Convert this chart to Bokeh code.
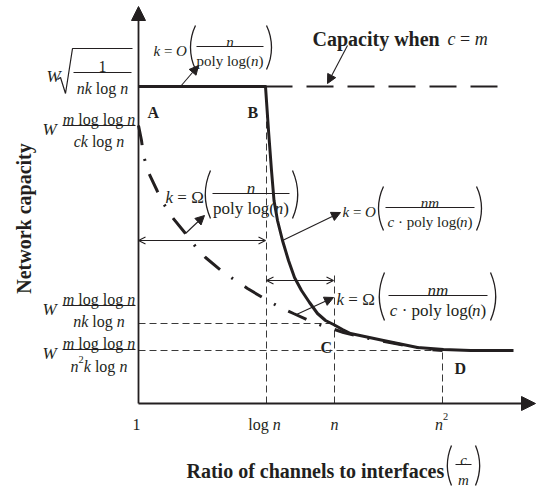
import math
from bokeh.plotting import figure
from bokeh.models import Range1d, Arrow, NormalHead, OpenHead
from bokeh.core.properties import value
from bokeh.embed import file_html
from bokeh.resources import INLINE

INK = "#231f20"
FONT = "Liberation Serif"

# ---------------- data (diagram units: x along the c/m axis, y = capacity) ----------------
x_tick_pos = [0, 128, 196, 304]                 # 1, log n, n, n^2
level_top = 317                                  # W sqrt(1/(nk log n))  (capacity when c = m)
level_A = 278                                    # W m loglog n /(ck log n)
level_C = 80                                     # W m loglog n /(nk log n)
level_D = 53                                     # W m loglog n /(n^2 k log n)

solid_x = [0, 127, 130, 133, 135.5, 139, 144, 150, 156, 163, 171, 179, 187, 195, 204, 212, 245, 279, 305, 332, 375]
solid_y = [317, 317, 273, 233, 203, 183, 163, 143, 126, 113, 101, 90, 83, 79, 74, 70, 63, 56, 54, 53, 53]

dashdot_x = [0, 3, 5, 10, 19, 25, 34, 47, 57, 67, 85, 97, 109, 129, 142, 155, 177, 190, 205, 225, 262, 290, 304]
dashdot_y = [278, 263, 248, 231, 212, 200, 186, 170, 157, 146, 131, 123, 115, 103, 96, 90, 80, 76, 71, 66, 59, 54, 53]

cm_x = [127, 359]
cm_y = [level_top, level_top]

x_axis_title = "Ratio of channels to interfaces"
y_axis_title = "Network capacity"
point_names = ["A", "B", "C", "D"]

# page position of the diagram origin (used to place annotation text)
OX, OY = 138, 403
W_PX, H_PX = 540, 486

# ---------------- text metrics (Times-like) ----------------
REG = {' ': 250, '(': 333, ')': 333, '=': 564, '\u00b7': 250, '1': 500, '2': 500,
       'a': 444, 'b': 500, 'c': 444, 'd': 500, 'e': 444, 'f': 333, 'g': 500, 'h': 500,
       'i': 278, 'k': 500, 'l': 278, 'm': 778, 'n': 500, 'o': 500, 'p': 500, 'r': 333,
       's': 389, 't': 278, 'w': 722, 'y': 500, 'O': 722, '\u03a9': 768, 'W': 944}
ITA = {'k': 444, 'm': 722, 'n': 500, 'c': 444, 'W': 833, 'O': 722}
BLD = {'C': 722, 'a': 500, 'p': 556, 'c': 444, 'i': 278, 't': 333, 'y': 500, 'w': 722,
       'h': 556, 'e': 444, 'n': 556, 'R': 722, 'o': 500, 'f': 333, 'l': 278, 's': 389, 'r': 444}


def tw(s, style, size):
    tab = ITA if style == "italic" else (BLD if style == "bold" else {})
    return sum(tab.get(ch, REG.get(ch, 500)) for ch in s) * size / 1000.0


p = figure(width=W_PX, height=H_PX,
           x_range=Range1d(-OX, W_PX - OX), y_range=Range1d(OY - H_PX, OY),
           output_backend="svg", toolbar_location=None, min_border=0,
           x_axis_type=None, y_axis_type=None)
p.grid.visible = False
p.outline_line_color = None
p.background_fill_color = "white"
p.border_fill_color = "white"


def txt(s, X, Y, size, style="normal", align="left", angle=0.0):
    p.text(x=[X - OX], y=[OY - Y], text=[s], angle=angle,
           text_font=value(FONT), text_font_size=f"{size}px",
           text_font_style=style, text_align=align, text_baseline="alphabetic",
           text_color=INK)


def segs(parts, X, Y, size, align="left"):
    items = []
    for part in parts:
        t, st = part[0], part[1]
        f = part[2] if len(part) > 2 else 1.0
        rise = part[3] if len(part) > 3 else 0
        items.append((t, st, size * f, rise))
    total = sum(tw(t, st, sz) for t, st, sz, r in items)
    x0 = X - total / 2 if align == "center" else X
    for t, st, sz, rise in items:
        lead = len(t) - len(t.lstrip(" "))
        core = t.strip(" ")
        if core:
            txt(core, x0 + tw(" " * lead, st, sz), Y - rise, sz, st)
        x0 += tw(t, st, sz)


def hline(X0, X1, Y, w=1.0):
    p.segment(x0=[X0 - OX], y0=[OY - Y], x1=[X1 - OX], y1=[OY - Y], line_color=INK, line_width=w)


def frac(num, den, cx, half, barY, size, ngap=6, dgap=16):
    hline(cx - half, cx + half, barY)
    segs(num, cx, barY - ngap, size, "center")
    segs(den, cx, barY + dgap, size, "center")


def paren(Xedge, Yc, half, side, s=5.0):
    r = (half ** 2 + s ** 2) / (2 * s)
    a = math.asin(half / r)
    if side == "left":
        cx, st, en = Xedge + r, math.pi - a, math.pi + a
    else:
        cx, st, en = Xedge - r, -a, a
    p.arc(x=[cx - OX], y=[OY - Yc], radius=r, start_angle=st, end_angle=en,
          line_color=INK, line_width=1.3)


def arrow(X0, Y0, X1, Y1, double=False, size=9):
    if double:
        p.add_layout(Arrow(start=OpenHead(size=7, line_color=INK, line_width=1.1),
                           end=OpenHead(size=7, line_color=INK, line_width=1.1),
                           x_start=X0 - OX, y_start=OY - Y0, x_end=X1 - OX, y_end=OY - Y1,
                           line_color=INK, line_width=1.1))
    else:
        p.add_layout(Arrow(end=NormalHead(size=size, fill_color=INK, line_color=INK, line_width=1),
                           x_start=X0 - OX, y_start=OY - Y0, x_end=X1 - OX, y_end=OY - Y1,
                           line_color=INK, line_width=1.1))


# ---------------- guide lines ----------------
gv_x = [x_tick_pos[1], x_tick_pos[2], x_tick_pos[3]]
gv_top = [level_top, 130, level_D]
for gx, gt in zip(gv_x, gv_top):
    p.line([gx, gx], [0, gt], line_color="#3a3a3a", line_width=1, line_dash="7 4")
gh_y = [level_C, level_D]
gh_right = [x_tick_pos[2], x_tick_pos[3]]
for gy, gr in zip(gh_y, gh_right):
    p.line([0, gr], [gy, gy], line_color="#3a3a3a", line_width=1, line_dash="7 4")

# ---------------- curves ----------------
p.line(cm_x, cm_y, line_color=INK, line_width=2, line_dash="27 14")
p.line(dashdot_x, dashdot_y, line_color=INK, line_width=3, line_dash="20 14 2 14")
p.line(solid_x, solid_y, line_color=INK, line_width=3, line_join="round")

# ---------------- axes ----------------
p.add_layout(Arrow(end=NormalHead(size=14, fill_color=INK, line_color=INK),
                   x_start=0, y_start=0, x_end=0, y_end=397, line_color=INK, line_width=1.8))
p.add_layout(Arrow(end=NormalHead(size=14, fill_color=INK, line_color=INK),
                   x_start=0, y_start=0, x_end=397, y_end=0, line_color=INK, line_width=1.8))

# x tick labels
txt("1", 136, 424, 16, "normal", "center")
segs([("log ", "normal"), ("n", "italic")], 264, 424, 16, "center")
segs([("n", "italic")], 334, 424, 16, "center")
segs([("n", "italic"), ("2", "normal", 0.65, 8)], 441, 424, 16, "center")

# axis titles
txt(x_axis_title, 186, 470, 20, "bold")
paren(447, 465, 20, "left", 4)
paren(479, 465, 20, "right", 4)
frac([("c", "italic")], [("m", "italic")], 463, 8, 464, 15, ngap=5, dgap=15)
txt(y_axis_title, 23, 218, 20, "bold", "center", angle=math.pi / 2)

# ---------------- y level labels ----------------
NK = [("nk", "italic"), (" log ", "normal"), ("n", "italic")]
MLL = [("m", "italic"), (" log log ", "normal"), ("n", "italic")]
# level 1
txt("W", 46, 76, 17, "italic")
p.line([57 - OX, 60 - OX, 65 - OX, 72 - OX, 132 - OX],
       [OY - 79, OY - 77, OY - 93, OY - 48, OY - 48], line_color=INK, line_width=1.2)
frac([("1", "normal")], NK, 102, 29, 72, 16)
# level 2
txt("W", 42, 129, 17, "italic")
frac(MLL, [("ck", "italic"), (" log ", "normal"), ("n", "italic")], 98.5, 36.5, 125, 16)
# level 3
txt("W", 42, 309, 17, "italic")
frac(MLL, NK, 98.5, 36.5, 305, 16)
# level 4
txt("W", 42, 353, 17, "italic")
frac(MLL, [("n", "italic"), ("2", "normal", 0.65, 7), ("k", "italic"), (" log ", "normal"), ("n", "italic")],
     98.5, 36.5, 349, 16, dgap=17)

# ---------------- k labels ----------------
POLY = [("poly log(", "normal"), ("n", "italic"), (")", "normal")]
CPOLY = [("c", "italic"), (" \u00b7 poly log(", "normal"), ("n", "italic"), (")", "normal")]


def k_label(kx, sym, sym_style, barY, lp, bl, br, rp, num, den, size):
    segs([("k", "italic"), (" = ", "normal"), (sym, sym_style)], kx, barY + 4, size)
    half = 22 if size < 16 else 24
    paren(lp, barY + 1, half, "left")
    paren(rp, barY + 1, half, "right")
    frac(num, den, (bl + br) / 2, (br - bl) / 2, barY, size, ngap=5, dgap=14 if size < 16 else 15)


k_label(153, "O", "italic", 46, 190, 196, 263, 271, [("n", "italic")], POLY, 15)
k_label(165, "\u03a9", "normal", 193, 205, 212, 289, 297, [("n", "italic")], POLY, 17)
k_label(342, "O", "italic", 207, 378, 385, 474, 481, [("nm", "italic")], CPOLY, 15)
k_label(336, "\u03a9", "normal", 295, 379, 388, 487, 495, [("nm", "italic")], CPOLY, 17)

# capacity when c = m
txt("Capacity when", 312, 38, 20, "bold")
segs([("c", "italic"), (" = ", "normal"), ("m", "italic")], 447, 38, 18)

# ---------------- annotation arrows ----------------
arrow(180, 86, 198, 65)
arrow(185, 233, 204, 215)
arrow(282, 240, 340, 212)
arrow(296, 314, 333, 297)
arrow(347, 45, 327, 83)
arrow(138, 240, 265, 240, double=True)
arrow(266, 280, 333, 280, double=True)

# point letters
for name, X, Y in zip(point_names, [147, 247, 320, 454], [112, 112, 347, 368]):
    txt(name, X, Y, 16, "bold")

open("out.html", "w").write(file_html(p, INLINE))
